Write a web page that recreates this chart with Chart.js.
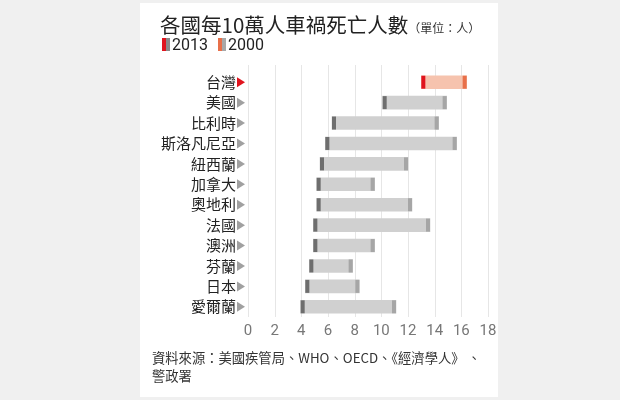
<!DOCTYPE html>
<html>
<head>
<meta charset="utf-8">
<script src="https://cdn.jsdelivr.net/npm/chart.js@4"></script>
<style>
  body { margin: 0; background: #f0f0f0; font-family: "Noto Sans CJK TC", "Noto Sans", sans-serif; }
  #card { position: absolute; left: 140px; top: 3px; width: 358px; height: 394px; background: #fff; }
  #wrap { position: absolute; left: 0; top: 0; width: 620px; height: 400px; }
  #title { position: absolute; left: 160px; top: 9px; font-size: 20.5px; color: #222; white-space: nowrap; line-height: 30px; }
  #title small { font-size: 12px; color: #333; }
  #legend { position: absolute; left: 162px; top: 35px; font-family: Roboto, sans-serif; font-size: 16px; color: #222; line-height: 20px; white-space: nowrap; }
  .mk { display: inline-block; width: 4px; height: 13px; vertical-align: -1px; }
  .lg { display: inline-block; margin-right: 10px; }
  .lg b { font-weight: normal; margin-left: 2px; }
  #source { position: absolute; left: 152px; top: 349px; font-size: 13.3px; color: #333; line-height: 18px; white-space: nowrap; }
</style>
</head>
<body>
<div id="card"></div>
<div id="wrap"><canvas id="mychart" width="620" height="400"></canvas></div>
<div id="title">各國每10萬人車禍死亡人數<small>（單位：人）</small></div>
<div id="legend"><span class="lg"><span class="mk" style="background:#e0141e"></span><span class="mk" style="background:#8a8a8a"></span><b>2013</b></span><span class="lg"><span class="mk" style="background:#e8704a"></span><span class="mk" style="background:#a8a8a8"></span><b>2000</b></span></div>
<div id="source">資料來源：美國疾管局、WHO、OECD、《經濟學人》 、<br>警政署</div>
<script>
// 国名
var countries = ['台灣', '美國', '比利時', '斯洛凡尼亞', '紐西蘭', '加拿大', '奧地利', '法國', '澳洲', '芬蘭', '日本', '愛爾蘭'];
// 2013年の値
var data2013 = [13.0, 10.1, 6.3, 5.8, 5.4, 5.15, 5.15, 4.9, 4.9, 4.6, 4.3, 3.95];
// 2000年の値
var data2000 = [16.4, 14.9, 14.3, 15.65, 12.0, 9.5, 12.3, 13.65, 9.5, 7.85, 8.35, 11.1];
// 横軸の目盛
var xTicks = [0, 2, 4, 6, 8, 10, 12, 14, 16, 18];

var ranges = countries.map(function(c, i) { return [data2013[i], data2000[i]]; });
var fills = countries.map(function(c, i) { return i === 0 ? '#f6c3ae' : '#d0d0d0'; });
var capLeft = countries.map(function(c, i) { return i === 0 ? '#e0141e' : '#6e6e6e'; });
var capRight = countries.map(function(c, i) { return i === 0 ? '#e8704a' : '#a6a6a6'; });

// 縦のグリッド線（少し上まで伸ばす）
var gridPlugin = {
  id: 'gridPlugin',
  beforeDatasetsDraw: function(chart) {
    var ctx = chart.ctx, x = chart.scales.x, area = chart.chartArea;
    ctx.save();
    ctx.strokeStyle = '#e6e6e6';
    ctx.lineWidth = 1;
    x.ticks.forEach(function(t) {
      var px = Math.round(x.getPixelForValue(t.value)) + 0.5;
      ctx.beginPath();
      ctx.moveTo(px, area.top - 7);
      ctx.lineTo(px, area.bottom);
      ctx.stroke();
    });
    ctx.restore();
  }
};

// 棒の両端のマーカーとラベル横の三角
var capPlugin = {
  id: 'capPlugin',
  afterDatasetsDraw: function(chart) {
    var ctx = chart.ctx, y = chart.scales.y, area = chart.chartArea;
    var meta = chart.getDatasetMeta(0);
    ctx.save();
    meta.data.forEach(function(bar, i) {
      var p = bar.getProps(['x', 'y', 'base', 'height'], true);
      var l = Math.min(p.x, p.base), r = Math.max(p.x, p.base);
      ctx.fillStyle = capLeft[i];
      ctx.fillRect(l, p.y - p.height / 2, 4, p.height);
      ctx.fillStyle = capRight[i];
      ctx.fillRect(r - 4, p.y - p.height / 2, 4, p.height);
    });
    countries.forEach(function(c, i) {
      var py = y.getPixelForValue(i);
      ctx.fillStyle = i === 0 ? '#e0141e' : '#a0a0a0';
      ctx.beginPath();
      ctx.moveTo(area.left - 11, py - 5);
      ctx.lineTo(area.left - 3, py);
      ctx.lineTo(area.left - 11, py + 5);
      ctx.closePath();
      ctx.fill();
    });
    ctx.restore();
  }
};

var ctx_bar = document.getElementById('mychart');
var myChart = new Chart(ctx_bar, {
  type: 'bar',
  data: {
    labels: countries,
    datasets: [{
      data: ranges,
      backgroundColor: fills,
      barThickness: 13,
      borderSkipped: false,
    }],
  },
  options: {
    indexAxis: 'y',
    responsive: false,
    animation: false,
    layout: { padding: { left: 148, right: 132, top: 72, bottom: 59 } },
    scales: {
      x: {
        min: 0,
        max: 18,
        afterFit: function(s) { s.height = 24; },
        afterBuildTicks: function(s) { s.ticks = xTicks.map(function(v) { return { value: v }; }); },
        grid: { display: false, drawTicks: false },
        border: { display: false },
        ticks: {
          padding: 5,
          color: '#777',
          font: { family: 'Roboto', size: 15 },
        },
      },
      y: {
        afterFit: function(s) { s.width = 100; },
        grid: { display: false, drawTicks: false },
        border: { display: false },
        ticks: {
          autoSkip: false,
          padding: 12,
          color: '#222',
          font: { family: '"Noto Sans CJK TC"', size: 15 },
        },
      },
    },
    plugins: {
      legend: { display: false },
      tooltip: { enabled: false },
    },
  },
  plugins: [gridPlugin, capPlugin],
});
</script>
</body>
</html>
